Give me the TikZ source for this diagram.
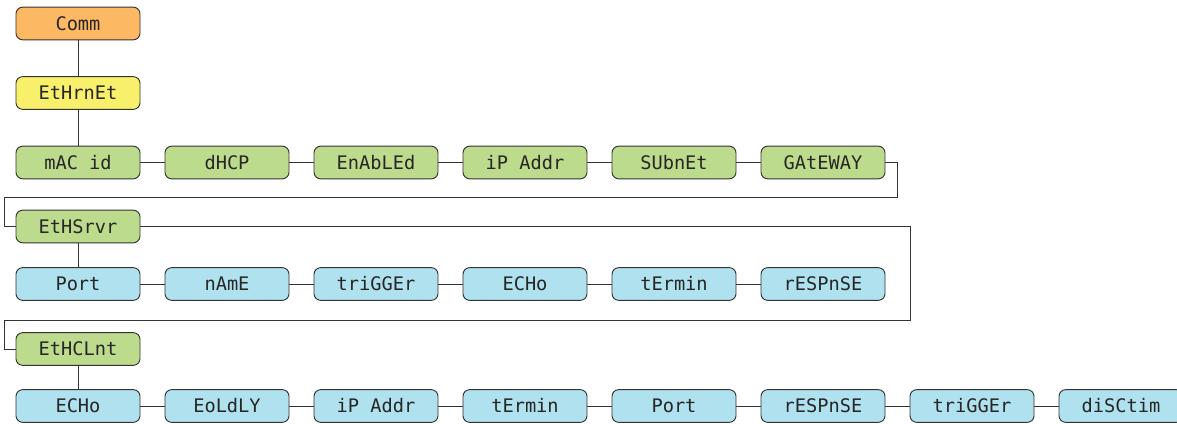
\documentclass[tikz,border=0pt]{standalone}
\usepackage{fontspec}
\setmonofont{DejaVu Sans Mono}
\usetikzlibrary{positioning}
\definecolor{menuorange}{RGB}{253,184,100}
\definecolor{menuyellow}{RGB}{248,239,106}
\definecolor{menugreen}{RGB}{189,219,140}
\definecolor{menublue}{RGB}{176,225,239}
\definecolor{menuline}{RGB}{51,51,51}

\begin{document}
\begin{tikzpicture}[
    x=0.75pt, y=-0.75pt,
    node distance=18.75pt,
    menu/.style={draw=menuline, line width=0.7pt, rounded corners=5pt, minimum width=93pt, minimum height=24.5pt, inner sep=0pt, outer sep=0pt, text height=10.2pt, text depth=0pt, font=\fontsize{14}{16}\ttfamily, text=black!85},
    top/.style={menu, fill=menuorange},
    sub/.style={menu, fill=menuyellow},
    grp/.style={menu, fill=menugreen},
    par/.style={menu, fill=menublue},
    link/.style={draw=menuline, line width=0.6pt}
]
\useasboundingbox (0,0) rectangle (1177,424);

% menu levels
\node[top] (comm) at (78,23.5) {Comm};
\node[sub] (ethr) at (78,93) {EtHrnEt};

\node[grp] (macid) at (78,162.5) {mAC id};
\node[grp, right=of macid] (dhcp) {dHCP};
\node[grp, right=of dhcp] (enabled) {EnAbLEd};
\node[grp, right=of enabled] (ipaddr) {iP Addr};
\node[grp, right=of ipaddr] (subnet) {SUbnEt};
\node[grp, right=of subnet] (gateway) {GAtEWAY};

\node[grp] (srvr) at (78,226.5) {EtHSrvr};
\node[par] (sport) at (78,284) {Port};
\node[par, right=of sport] (sname) {nAmE};
\node[par, right=of sname] (strig) {triGGEr};
\node[par, right=of strig] (secho) {ECHo};
\node[par, right=of secho] (sterm) {tErmin};
\node[par, right=of sterm] (sresp) {rESPnSE};

\node[grp] (clnt) at (78,349) {EtHCLnt};
\node[par] (cecho) at (78,406) {ECHo};
\node[par, right=of cecho] (ceol) {EoLdLY};
\node[par, right=of ceol] (cip) {iP Addr};
\node[par, right=of cip] (cterm) {tErmin};
\node[par, right=of cterm] (cport) {Port};
\node[par, right=of cport] (cresp) {rESPnSE};
\node[par, right=of cresp] (ctrig) {triGGEr};
\node[par, right=of ctrig] (cdisc) {diSCtim};

% wrap-around turns
\coordinate (turnA) at (897,197);
\coordinate (turnB) at (4,197);
\coordinate (turnC) at (910,320);
\coordinate (turnD) at (4,320);

\draw[link] (comm) -- (ethr);
\draw[link] (ethr) -- (macid);
\draw[link] (macid) -- (dhcp) (dhcp) -- (enabled) (enabled) -- (ipaddr) (ipaddr) -- (subnet) (subnet) -- (gateway);
\draw[link] (gateway.east) -| (turnA) -- (turnB) |- (srvr.west);
\draw[link] (srvr) -- (sport);
\draw[link] (sport) -- (sname) (sname) -- (strig) (strig) -- (secho) (secho) -- (sterm) (sterm) -- (sresp);
\draw[link] (srvr.east) -| (turnC) -- (turnD) |- (clnt.west);
\draw[link] (clnt) -- (cecho);
\draw[link] (cecho) -- (ceol) (ceol) -- (cip) (cip) -- (cterm) (cterm) -- (cport) (cport) -- (cresp) (cresp) -- (ctrig) (ctrig) -- (cdisc);
\end{tikzpicture}
\end{document}
